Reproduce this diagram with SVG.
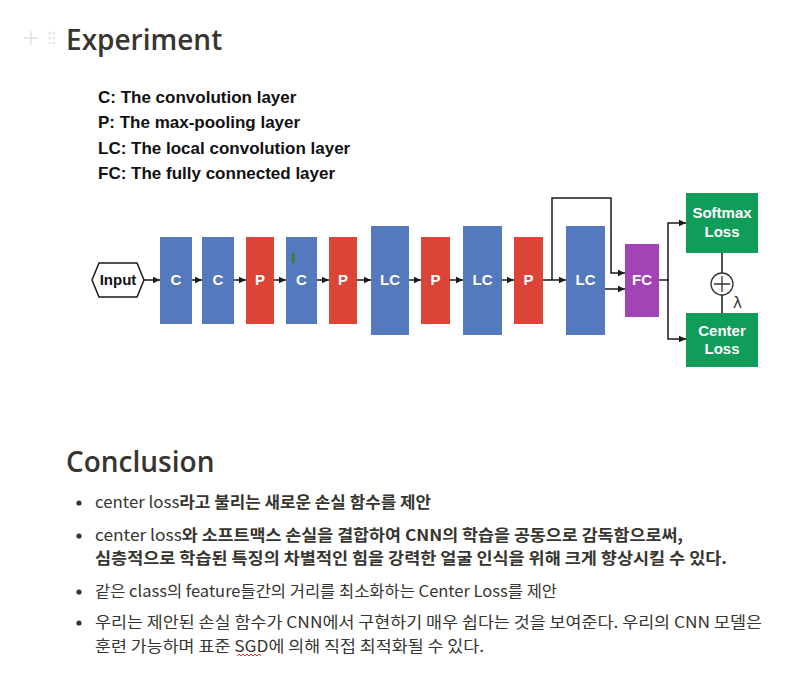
<svg xmlns="http://www.w3.org/2000/svg" width="806" height="683" viewBox="0 0 806 683">
<style>
.h{font-family:"Open Sans","Noto Sans",sans-serif;font-weight:600;font-size:28px;fill:#37352f}
.leg{font-family:"Liberation Sans",Arial,sans-serif;font-weight:bold;font-size:17px;fill:#111}
.lbl{font-family:"Liberation Sans",Arial,sans-serif;font-weight:bold;font-size:15px;fill:#fff;text-anchor:middle}
.blue{fill:#5479bd}.red{fill:#db4437}.purple{fill:#a244b6}.green{fill:#109d59}
.conn{fill:none;stroke:#1a1a1a;stroke-width:1.5}
.body{font-family:"Noto Sans CJK KR","Noto Sans",sans-serif;font-size:16px;fill:#37352f}
.b{font-weight:bold}
.faint{fill:#e3e3e3}
</style>
<defs>
<marker id="ah" markerUnits="userSpaceOnUse" markerWidth="8" markerHeight="8" refX="7" refY="4" orient="auto">
<path d="M0,0.8 L7,4 L0,7.2 z" fill="#1a1a1a"/>
</marker>
</defs>
<rect width="806" height="683" fill="#fff"/>

<g id="handle">
<rect class="faint" x="30" y="31" width="1.6" height="14"/>
<rect class="faint" x="24" y="37.2" width="14" height="1.6"/>
<circle class="faint" cx="49.5" cy="33" r="1.3"/><circle class="faint" cx="54" cy="33" r="1.3"/>
<circle class="faint" cx="49.5" cy="38" r="1.3"/><circle class="faint" cx="54" cy="38" r="1.3"/>
<circle class="faint" cx="49.5" cy="43" r="1.3"/><circle class="faint" cx="54" cy="43" r="1.3"/>
</g>
<text class="h" x="66" y="50">Experiment</text>

<g id="legend">
<text class="leg" x="98" y="103">C: The convolution layer</text>
<text class="leg" x="98" y="128">P: The max-pooling layer</text>
<text class="leg" x="98" y="154">LC: The local convolution layer</text>
<text class="leg" x="98" y="179">FC: The fully connected layer</text>
</g>

<g id="connectors">
<path class="conn" marker-end="url(#ah)" d="M144,280 H160"/>
<path class="conn" marker-end="url(#ah)" d="M192,280 H202"/>
<path class="conn" marker-end="url(#ah)" d="M234,280 H246"/>
<path class="conn" marker-end="url(#ah)" d="M274,280 H286"/>
<path class="conn" marker-end="url(#ah)" d="M317,280 H329"/>
<path class="conn" marker-end="url(#ah)" d="M357,280 H371"/>
<path class="conn" marker-end="url(#ah)" d="M409,280 H421"/>
<path class="conn" marker-end="url(#ah)" d="M450,280 H463"/>
<path class="conn" marker-end="url(#ah)" d="M502,280 H514"/>
<path class="conn" marker-end="url(#ah)" d="M543,280 H566"/>
<path class="conn" marker-end="url(#ah)" d="M552,280 V198 H611 V273 H625"/>
<path class="conn" marker-end="url(#ah)" d="M605,289 H625"/>
<path class="conn" d="M659,280 H668"/>
<path class="conn" marker-end="url(#ah)" d="M668,281 V223 H686"/>
<path class="conn" marker-end="url(#ah)" d="M668,279 V339 H686"/>
<path class="conn" d="M722,253 V273 M722,295 V313"/>
</g>

<g id="input">
<polygon points="92,280 99,263 137,263 144,280 137,297 99,297" fill="#fff" stroke="#1a1a1a" stroke-width="1.5"/>
<text class="lbl" x="118" y="285" style="fill:#111">Input</text>
</g>
<g id="c1"><rect class="blue" x="160" y="237" width="32" height="87"/><text class="lbl" x="176" y="285">C</text></g>
<g id="c2"><rect class="blue" x="202" y="237" width="32" height="87"/><text class="lbl" x="218" y="285">C</text></g>
<g id="p1"><rect class="red" x="246" y="237" width="28" height="87"/><text class="lbl" x="260" y="285">P</text></g>
<g id="c3"><rect class="blue" x="286" y="237" width="31" height="87"/><rect x="292" y="253" width="2.5" height="10" fill="#4a7a1c"/><text class="lbl" x="301.5" y="285">C</text></g>
<g id="p2"><rect class="red" x="329" y="237" width="28" height="87"/><text class="lbl" x="343" y="285">P</text></g>
<g id="lc1"><rect class="blue" x="371" y="226" width="38" height="109"/><text class="lbl" x="390" y="285">LC</text></g>
<g id="p3"><rect class="red" x="421" y="237" width="29" height="87"/><text class="lbl" x="435.5" y="285">P</text></g>
<g id="lc2"><rect class="blue" x="463" y="226" width="39" height="109"/><text class="lbl" x="482.5" y="285">LC</text></g>
<g id="p4"><rect class="red" x="514" y="237" width="29" height="87"/><text class="lbl" x="528.5" y="285">P</text></g>
<g id="lc3"><rect class="blue" x="566" y="226" width="39" height="109"/><text class="lbl" x="585.5" y="285">LC</text></g>
<g id="fc"><rect class="purple" x="625" y="244" width="34" height="73"/><text class="lbl" x="642" y="285">FC</text></g>
<g id="softmax"><rect class="green" x="686" y="193" width="72" height="60"/><text class="lbl" x="722" y="218">Softmax</text><text class="lbl" x="722" y="237">Loss</text></g>
<g id="center"><rect class="green" x="686" y="313" width="72" height="54"/><text class="lbl" x="722" y="336">Center</text><text class="lbl" x="722" y="354">Loss</text></g>
<g id="plus">
<circle cx="722" cy="284" r="11" fill="#fff" stroke="#333" stroke-width="1.3"/>
<path d="M714,284 H730 M722,276 V292" stroke="#333" stroke-width="1.3"/>
<text x="733" y="308" font-family="DejaVu Sans,sans-serif" font-size="15" fill="#333">λ</text>
</g>

<text class="h" x="66" y="472">Conclusion</text>

<g id="bullets">
<circle cx="79" cy="503" r="2.6" fill="#37352f"/>
<text class="body" x="95" y="508" textLength="336" lengthAdjust="spacingAndGlyphs">center loss<tspan class="b">라고 불리는 새로운 손실 함수를 제안</tspan></text>
<circle cx="79" cy="536" r="2.6" fill="#37352f"/>
<text class="body" x="95" y="541" textLength="588" lengthAdjust="spacingAndGlyphs">center loss<tspan class="b">와 소프트맥스 손실을 결합하여 CNN의 학습을 공동으로 감독함으로써,</tspan></text>
<text class="body b" x="95" y="564" textLength="632" lengthAdjust="spacingAndGlyphs">심층적으로 학습된 특징의 차별적인 힘을 강력한 얼굴 인식을 위해 크게 향상시킬 수 있다.</text>
<circle cx="79" cy="592" r="2.6" fill="#37352f"/>
<text class="body" x="95" y="597" textLength="462" lengthAdjust="spacingAndGlyphs">같은 class의 feature들간의 거리를 최소화하는 Center Loss를 제안</text>
<circle cx="79" cy="623" r="2.6" fill="#37352f"/>
<text class="body" x="95" y="628" textLength="667" lengthAdjust="spacingAndGlyphs">우리는 제안된 손실 함수가 CNN에서 구현하기 매우 쉽다는 것을 보여준다. 우리의 CNN 모델은</text>
<text class="body" x="95" y="652" textLength="389" lengthAdjust="spacingAndGlyphs">훈련 가능하며 표준 SGD에 의해 직접 최적화될 수 있다.</text>
<path d="M237,656 l2,-2 l2,2 l2,-2 l2,2 l2,-2 l2,2 l2,-2 l2,2 l2,-2 l2,2 l2,-2 l2,2" fill="none" stroke="#e03030" stroke-width="1"/>
</g>
</svg>
